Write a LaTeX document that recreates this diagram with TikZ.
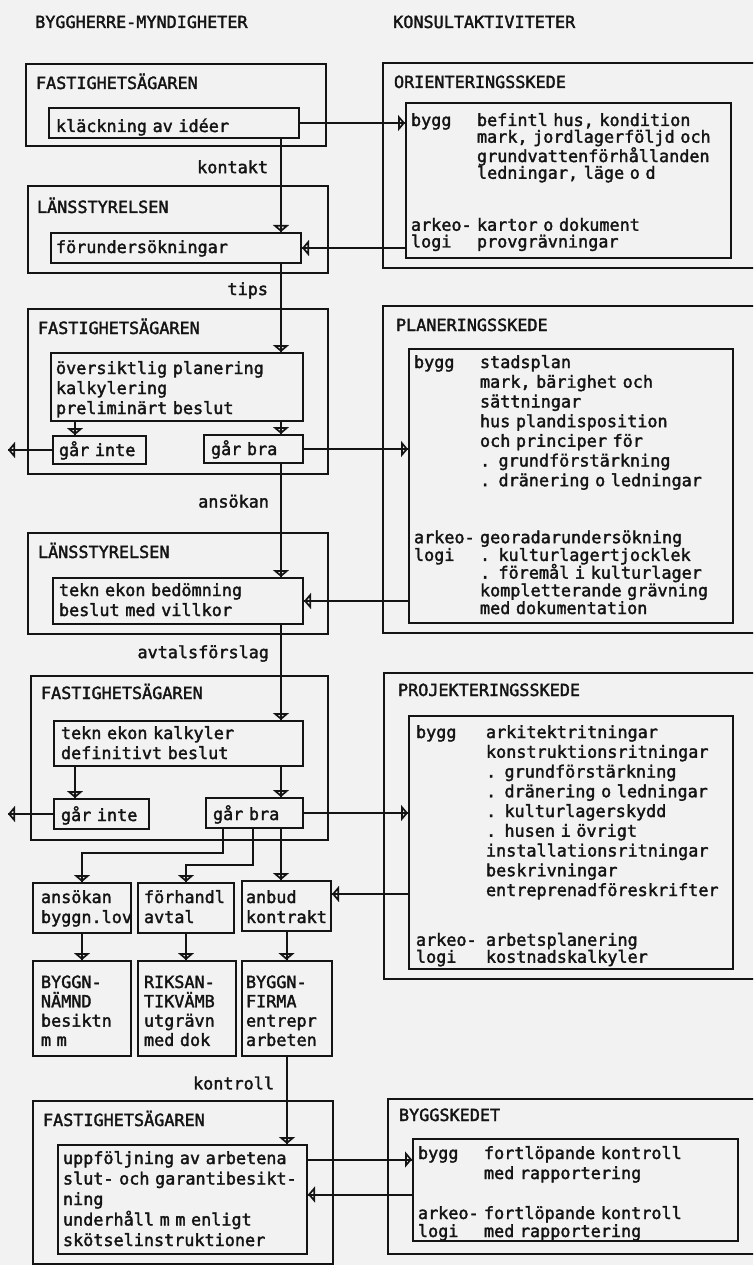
\documentclass[tikz,border=0pt]{standalone}
\usepackage{fontspec}
\setmonofont{DejaVu Sans Mono}[FakeBold=2]
\usetikzlibrary{
    positioning,
    arrows.meta
}
\definecolor{ink}{gray}{0.08}
\definecolor{paper}{gray}{0.95}

\newcommand\field[2][66]{\makebox[#1pt][l]{#2}}

\tikzset{
    pitch/.style={font=\ttfamily\fontsize{16.8}{#1}\selectfont},
    pitch/.default=20,
    sheet/.style n args={4}{
        draw, line width=2pt, anchor=north west, align=left, pitch,
        inner ysep=0pt, inner xsep=#3pt,
        text width={(#1-2*#3)*1pt},
        text height=#4pt, text depth={(#2-#4)*1pt}
    },
    flow/.style={
        draw, line width=2pt,
        -{Triangle[open, length=7pt, width=16pt]},
        postaction={draw, -}
    },
    note/.style={pitch, inner sep=0pt}
}

\begin{document}
\begin{tikzpicture}[
    x=1pt, y=-1pt,
    color=ink
]

    \clip (0,0) rectangle (753,1265);
    \fill[paper] (0,0) rectangle (753,1265);

    % Rubriker
    \node[note, anchor=base west] (headL) at (35,28) {BYGGHERRE-MYNDIGHETER};
    \node[note, anchor=base west] (headR) at (393,28) {KONSULTAKTIVITETER};

    % Byggherre och myndigheter
    \node[sheet={300}{82}{10}{25}]  (owner1)  at (25,63)   {FASTIGHETSÄGAREN};
    \node[sheet={300}{87}{9}{27}]   (county1) at (27,185)  {LÄNSSTYRELSEN};
    \node[sheet={300}{165}{10}{25}] (owner2)  at (27,308)  {FASTIGHETSÄGAREN};
    \node[sheet={300}{101}{10}{25}] (county2) at (27,532)  {LÄNSSTYRELSEN};
    \node[sheet={297}{164}{10}{23}] (owner3)  at (30,675)  {FASTIGHETSÄGAREN};
    \node[sheet={300}{163}{10}{25}] (owner4)  at (32,1100) {FASTIGHETSÄGAREN};

    \node[sheet={250}{30}{7}{24}] (ideas)  at (48,107) {kläckning av idéer};
    \node[sheet={250}{30}{5}{20}] (survey) at (50,232) {förundersökningar};
    \node[sheet={252}{68}{5}{21}] (prelim) at (50,352)
        {översiktlig planering\\kalkylering\\preliminärt beslut};
    \node[sheet={93}{28}{6}{20}]  (nogo1)  at (52,435)  {går~inte};
    \node[sheet={99}{28}{7}{20}]  (go1)    at (203,434) {går bra};
    \node[sheet={250}{46}{6}{18}] (permit) at (52,577)
        {tekn ekon bedömning\\beslut med villkor};
    \node[sheet={249}{45}{7}{18}] (final)  at (53,720)
        {tekn ekon kalkyler\\definitivt beslut};
    \node[sheet={95}{30}{7}{22}]  (nogo2)  at (53,798)  {går~inte};
    \node[sheet={97}{30}{7}{22}]  (go2)    at (205,797) {går bra};

    \node[sheet={98}{50}{8}{20}] (apply)  at (32,882)  {ansökan\\byggn.lov};
    \node[sheet={96}{50}{6}{20}] (negot)  at (137,882) {förhandl\\avtal};
    \node[sheet={89}{50}{4}{22}] (tender) at (241,880) {anbud\\kontrakt};

    \node[sheet={98}{95}{8}{27}, pitch=19.3] (board) at (32,960)
        {BYGGN-\\NÄMND\\besiktn\\m m};
    \node[sheet={98}{95}{6}{27}, pitch=19.3] (raa)   at (137,960)
        {RIKSAN-\\TIKVÄMB\\utgrävn\\med dok};
    \node[sheet={90}{95}{4}{27}, pitch=19.3] (firm)  at (241,960)
        {BYGGN-\\FIRMA\\entrepr\\arbeten};

    \node[sheet={249}{109}{5}{19}, pitch=20.5] (followup) at (57,1144)
        {uppföljning av arbetena\\\mbox{slut- och garantibesikt-}\\ning\\underhåll m m enligt\\skötselinstruktioner};

    % Konsultaktiviteter
    \node[sheet={378}{205}{11}{25}] (orient)  at (382,62)   {ORIENTERINGSSKEDE};
    \node[sheet={378}{327}{13}{25}] (plan)    at (382,305)  {PLANERINGSSKEDE};
    \node[sheet={377}{306}{14}{23}] (project) at (383,672)  {PROJEKTERINGSSKEDE};
    \node[sheet={373}{155}{11}{22}] (build)   at (387,1098) {BYGGSKEDET};

    \node[sheet={325}{155}{5}{23}, pitch=16.7] (orientIn) at (405,102)
        {\field{bygg}befintl hus, kondition\\
         \field{}mark, jordlagerföljd och\\
         \field{}grundvattenförhållanden\\
         \field{}ledningar, läge o d\\[35.3pt]
         \field{arkeo-}kartor o dokument\\
         \field{logi}provgrävningar};
    \node[sheet={324}{274}{5}{19}, pitch=19.7] (planIn) at (408,348)
        {\field{bygg}stadsplan\\
         \field{}mark, bärighet och\\
         \field{}sättningar\\
         \field{}hus plandisposition\\
         \field{}och principer för\\
         \field{}. grundförstärkning\\
         \field{}. dränering o ledningar\\[37.3pt]
         \field{arkeo-}georadarundersökning\\[-2pt]
         \field{logi}. kulturlagertjocklek\\[-2pt]
         \field{}. föremål i kulturlager\\[-2pt]
         \field{}kompletterande grävning\\[-2pt]
         \field{}med dokumentation};
    \node[sheet={324}{253}{7}{22}, pitch=19.75] (projectIn) at (408,715)
        {\field[70]{bygg}arkitektritningar\\
         \field[70]{}konstruktionsritningar\\
         \field[70]{}. grundförstärkning\\
         \field[70]{}. dränering o ledningar\\
         \field[70]{}. kulturlagerskydd\\
         \field[70]{}. husen i övrigt\\
         \field[70]{}installationsritningar\\
         \field[70]{}beskrivningar\\
         \field[70]{}entreprenadföreskrifter\\[30pt]
         \field[70]{arkeo-}arbetsplanering\\[-2.75pt]
         \field[70]{logi}kostnadskalkyler};
    \node[sheet={325}{102}{5}{20}] (buildIn) at (412,1138)
        {\field{bygg}fortlöpande kontroll\\
         \field{}med rapportering\\[20pt]
         \field{arkeo-}fortlöpande kontroll\\[-2pt]
         \field{logi}med rapportering};

    % Flöden
    \coordinate (spine) at (281,0);
    \coordinate (drop)  at (75,0);
    \coordinate (exit)  at (8,0);
    \coordinate (fork1) at (223,853);
    \coordinate (fork2) at (253,865);

    \draw[flow] (spine |- ideas.south) --
        node[note, left=12pt, pos=.3] (lblContact) {kontakt} (spine |- survey.north);
    \draw[flow] (ideas) -- (ideas -| orientIn.west);
    \draw[flow] (survey -| orientIn.west) -- (survey);

    \draw[flow] (spine |- survey.south) --
        node[note, left=12pt, pos=.3] (lblTips) {tips} (spine |- prelim.north);
    \draw[flow] (drop |- prelim.south) -- (drop |- nogo1.north);
    \draw[flow] (spine |- prelim.south) -- (spine |- go1.north);
    \draw[flow] (nogo1) -- (nogo1 -| exit);
    \draw[flow] (go1) -- (go1 -| planIn.west);

    \draw[flow] (spine |- go1.south) --
        node[note, left=11pt, pos=.33] (lblApply) {ansökan} (spine |- permit.north);
    \draw[flow] (permit -| planIn.west) -- (permit);

    \draw[flow] (spine |- permit.south) --
        node[note, left=11pt, pos=.3] (lblOffer) {avtalsförslag} (spine |- final.north);
    \draw[flow] (drop |- final.south) -- (drop |- nogo2.north);
    \draw[flow] (spine |- final.south) -- (spine |- go2.north);
    \draw[flow] (nogo2) -- (nogo2 -| exit);
    \draw[flow] (go2) -- (go2 -| projectIn.west);

    \draw[flow] (fork1 |- go2.south) -- (fork1) -| (apply);
    \draw[flow] (fork2 |- go2.south) -- (fork2) -| (negot);
    \draw[flow] (spine |- go2.south) -- (spine |- tender.north);
    \draw[flow] ([yshift=12pt]tender.east -| projectIn.west) -- ([yshift=12pt]tender.east);

    \draw[flow] (apply) -- (apply |- board.north);
    \draw[flow] (negot) -- (negot |- raa.north);
    \draw[flow] (tender) -- (tender |- firm.north);

    \draw[flow] (firm) --
        node[note, left=12pt, pos=.3] (lblCheck) {kontroll} (firm |- followup.north);
    \draw[flow] ([yshift=40pt]followup.east) -- ([yshift=40pt]followup.east -| buildIn.west);
    \draw[flow] ([yshift=5pt]followup.east -| buildIn.west) -- ([yshift=5pt]followup.east);

\end{tikzpicture}
\end{document}
